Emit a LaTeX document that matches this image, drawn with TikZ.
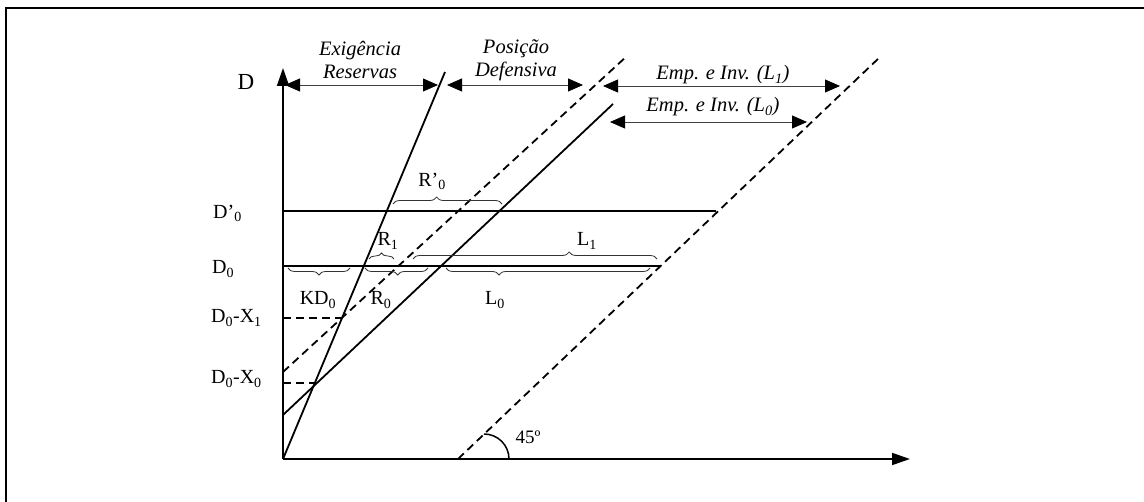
\documentclass[tikz,border=0pt]{standalone}
\usepackage{fontspec}
\setmainfont{Liberation Serif}
\usetikzlibrary{arrows.meta,decorations.pathreplacing}
\begin{document}
\begin{tikzpicture}[x=1pt,y=-1pt,
  thick line/.style={line width=1.8pt},
  dline/.style={line width=1.8pt,dash pattern=on 8pt off 5pt},
  dimarrow/.style={line width=0.8pt,black!75,{Triangle[length=15pt,width=13pt,black]}-{Triangle[length=15pt,width=13pt,black]}},
  lbl/.style={font=\fontsize{20}{22}\selectfont,inner sep=0pt},
  llbl/.style={font=\fontsize{20}{22}\selectfont,inner sep=0pt,anchor=west},
  ital/.style={font=\fontsize{20.5}{23}\selectfont\itshape,inner sep=0pt,align=center},
  brc/.style={decorate,line width=0.8pt,black!80,decoration={brace,amplitude=7pt}},
  brcm/.style={decorate,line width=0.8pt,black!80,decoration={brace,amplitude=7pt,mirror}}]
\useasboundingbox (0,0) rectangle (1144,502);
% frame
\draw[line width=2.5pt] (6,502) -- (6,8) -- (1144,8);
% axes
\coordinate (O) at (283,459);
\coordinate (Ytop) at (283,68);
\coordinate (Xend) at (910,459);
\draw[line width=1.8pt,-{Triangle[length=18pt,width=12pt]}] (O) -- (Ytop);
\draw[line width=1.8pt,-{Triangle[length=18pt,width=12pt]}] (O) -- (Xend);
\node[lbl,font=\fontsize{23}{25}\selectfont] (Dlab) at (246,82) {D};
% lines
\coordinate (s1) at (283,459); \coordinate (s2) at (445,72);
\draw[thick line] (s1) -- (s2);
\coordinate (l1) at (283,415); \coordinate (l2) at (613,104);
\draw[thick line] (l1) -- (l2);
\coordinate (d1) at (283,372); \coordinate (d2) at (627,56);
\draw[dline] (d1) -- (d2);
\coordinate (f1) at (458,459); \coordinate (f2) at (880,57);
\draw[dline] (f1) -- (f2);
% horizontals
\coordinate (hp1) at (283,211); \coordinate (hp2) at (716,211);
\draw[thick line] (hp1) -- (hp2);
\coordinate (h01) at (283,266); \coordinate (h02) at (660,266);
\draw[thick line] (h01) -- (h02);
\coordinate (x11) at (283,318); \coordinate (x12) at (341,318);
\draw[dline] (x11) -- (x12);
\coordinate (x01) at (283,383); \coordinate (x02) at (316,383);
\draw[dline] (x01) -- (x02);
% 45 arc
\coordinate (arcS) at (484,434);
\draw[line width=1.5pt] (arcS) arc[start angle=-90,end angle=0,radius=25];
\node[lbl,font=\fontsize{19}{21}\selectfont] (a45) at (528,437) {45º};
% left labels
\node[llbl] (Dp0) at (213,213) {D’\textsubscript{0}};
\node[llbl] (D0) at (212,269) {D\textsubscript{0}};
\node[llbl] (DX1) at (211,318) {D\textsubscript{0}-X\textsubscript{1}};
\node[llbl] (DX0) at (211,379) {D\textsubscript{0}-X\textsubscript{0}};
% top dimension arrows
\coordinate (a1l) at (285,85); \coordinate (a1r) at (438,85);
\draw[dimarrow] (a1l) -- (a1r);
\coordinate (a2l) at (447,85); \coordinate (a2r) at (583,85);
\draw[dimarrow] (a2l) -- (a2r);
\coordinate (a3l) at (603,86); \coordinate (a3r) at (840,86);
\draw[dimarrow] (a3l) -- (a3r);
\coordinate (a4l) at (610,122); \coordinate (a4r) at (807,122);
\draw[dimarrow] (a4l) -- (a4r);
\node[ital] (t1) at (360,60) {Exigência\\Reservas};
\node[ital] (t2) at (516,60) {Posição\\Defensiva};
\node[ital] (t3) at (723,75) {Emp. e Inv. (L\textsubscript{1})};
\node[ital] (t4) at (713,107) {Emp. e Inv. (L\textsubscript{0})};
% braces
\coordinate (bRp1) at (393,204); \coordinate (bRp2) at (502,204);
\draw[brc,decoration={aspect=0.4}] (bRp1) -- (bRp2);
\node[lbl] (Rp0) at (432,181) {R’\textsubscript{0}};
\coordinate (bR11) at (369,259); \coordinate (bR12) at (394,259);
\draw[brc,decoration={amplitude=6pt}] (bR11) -- (bR12);
\node[lbl] (R1) at (388,241) {R\textsubscript{1}};
\coordinate (bL11) at (413,259); \coordinate (bL12) at (657,259);
\draw[brc,decoration={aspect=0.64}] (bL11) -- (bL12);
\node[lbl] (L1) at (587,241) {L\textsubscript{1}};
\coordinate (bK1) at (288,268); \coordinate (bK2) at (350,268);
\draw[brcm] (bK1) -- (bK2);
\node[lbl] (KD0) at (318,300) {KD\textsubscript{0}};
\coordinate (bR01) at (365,268); \coordinate (bR02) at (428,268);
\draw[brcm,decoration={aspect=0.52}] (bR01) -- (bR02);
\node[lbl] (R0) at (381,300) {R\textsubscript{0}};
\coordinate (bL01) at (446,268); \coordinate (bL02) at (650,268);
\draw[brcm,decoration={aspect=0.26}] (bL01) -- (bL02);
\node[lbl] (L0) at (495,300) {L\textsubscript{0}};
\end{tikzpicture}
\end{document}
